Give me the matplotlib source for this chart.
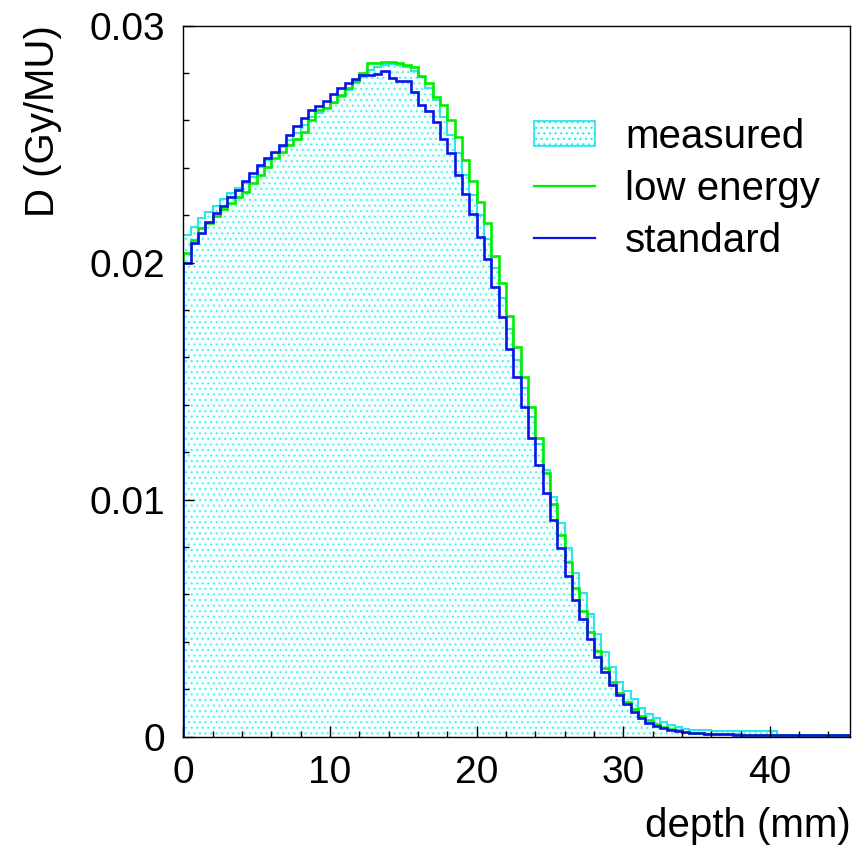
import numpy as np
import matplotlib
matplotlib.use("Agg")
import matplotlib.pyplot as plt
from matplotlib.patches import Patch
from matplotlib.lines import Line2D
from matplotlib.ticker import MultipleLocator, FuncFormatter

plt.rcParams['font.family'] = ['Liberation Sans', 'DejaVu Sans']
plt.rcParams['hatch.linewidth'] = 0.8

# depth-dose histograms, 0.5 mm bins from 0 to 45.5 mm
bin_edges = np.arange(0, 45.5001, 0.5)

measured = [
    0.02116, 0.02151, 0.02186, 0.02212, 0.02240, 0.02267, 0.02292, 0.02313, 0.02334, 0.02362,
    0.02402, 0.02432, 0.02461, 0.02489, 0.02517, 0.02545, 0.02580, 0.02615, 0.02632, 0.02651,
    0.02672, 0.02700, 0.02728, 0.02756, 0.02784, 0.02812, 0.02826, 0.02833, 0.02838, 0.02833,
    0.02826, 0.02809, 0.02784, 0.02735, 0.02686, 0.02615, 0.02538, 0.02461, 0.02370, 0.02285,
    0.02200, 0.02100, 0.01975, 0.01850, 0.01720, 0.01590, 0.01470, 0.01350, 0.01235, 0.01124,
    0.01012, 0.00902, 0.00794, 0.00691, 0.00604, 0.00515, 0.00432, 0.00358, 0.00292, 0.00231,
    0.00193, 0.00157, 0.00122, 0.00096, 0.00077, 0.00060, 0.00048, 0.00039, 0.00033, 0.00029,
    0.00027, 0.00026, 0.00025, 0.00024, 0.00024, 0.00023, 0.00023, 0.00023, 0.00022, 0.00022,
    0.00022, 0.00002, 0.00002, 0.00002, 0.00002, 0.00002, 0.00002, 0.00002, 0.00002, 0.00002,
    0.00002,
]

low_energy = [
    0.02041, 0.02095, 0.02144, 0.02168, 0.02198, 0.02224, 0.02250, 0.02278, 0.02299, 0.02334,
    0.02369, 0.02404, 0.02440, 0.02468, 0.02496, 0.02520, 0.02552, 0.02601, 0.02643, 0.02651,
    0.02678, 0.02707, 0.02735, 0.02766, 0.02801, 0.02840, 0.02840, 0.02847, 0.02847, 0.02840,
    0.02833, 0.02824, 0.02788, 0.02756, 0.02700, 0.02665, 0.02601, 0.02531, 0.02432, 0.02345,
    0.02257, 0.02168, 0.02029, 0.01912, 0.01776, 0.01645, 0.01515, 0.01389, 0.01258, 0.01110,
    0.00981, 0.00850, 0.00738, 0.00625, 0.00531, 0.00442, 0.00362, 0.00288, 0.00231, 0.00182,
    0.00146, 0.00115, 0.00088, 0.00068, 0.00052, 0.00041, 0.00032, 0.00026, 0.00021, 0.00017,
    0.00014, 0.00012, 0.00011, 0.00010, 0.00009, 0.00009, 0.00008, 0.00008, 0.00007, 0.00007,
    0.00007, 0.00006, 0.00006, 0.00006, 0.00006, 0.00005, 0.00005, 0.00005, 0.00005, 0.00005,
    0.00005,
]

standard = [
    0.01999, 0.02081, 0.02123, 0.02170, 0.02207, 0.02238, 0.02278, 0.02306, 0.02344, 0.02379,
    0.02411, 0.02440, 0.02468, 0.02496, 0.02538, 0.02576, 0.02608, 0.02643, 0.02660, 0.02681,
    0.02710, 0.02735, 0.02756, 0.02773, 0.02791, 0.02791, 0.02795, 0.02808, 0.02777, 0.02767,
    0.02767, 0.02718, 0.02665, 0.02641, 0.02594, 0.02520, 0.02463, 0.02369, 0.02289, 0.02203,
    0.02109, 0.02015, 0.01895, 0.01771, 0.01636, 0.01515, 0.01389, 0.01258, 0.01146, 0.01029,
    0.00914, 0.00794, 0.00678, 0.00576, 0.00494, 0.00411, 0.00337, 0.00274, 0.00217, 0.00177,
    0.00137, 0.00105, 0.00079, 0.00059, 0.00046, 0.00037, 0.00028, 0.00023, 0.00018, 0.00015,
    0.00013, 0.00010, 0.00010, 0.00009, 0.00009, 0.00008, 0.00008, 0.00007, 0.00007, 0.00007,
    0.00006, 0.00005, 0.00005, 0.00005, 0.00005, 0.00005, 0.00005, 0.00005, 0.00005, 0.00005,
    0.00005,
]

labels = ['measured', 'low energy', 'standard']
fill_col = '#f6fefe'
dot_col = '#55eef4'
cyan = '#2ee6ea'
green = '#00ee00'
blue = '#0a14e6'

fig = plt.figure(figsize=(8.55, 8.51), dpi=100)
ax = fig.add_axes([0.2146, 0.1345, 0.7801, 0.8355])

# measured: dotted cyan fill plus outline
ax.stairs(measured, bin_edges, baseline=0, fill=True, facecolor=fill_col,
          edgecolor=dot_col, hatch='...', linewidth=0)
ax.stairs(measured, bin_edges, baseline=0, color=cyan, linewidth=1.5)
ax.stairs(low_energy, bin_edges, baseline=0, color=green, linewidth=1.9)
ax.stairs(standard, bin_edges, baseline=0, color=blue, linewidth=1.9)

ax.set_xlim(0, 45.5)
ax.set_ylim(0, 0.03)

ax.xaxis.set_major_locator(MultipleLocator(10))
ax.xaxis.set_minor_locator(MultipleLocator(2))
ax.yaxis.set_major_locator(MultipleLocator(0.01))
ax.yaxis.set_minor_locator(MultipleLocator(0.002))
ax.yaxis.set_major_formatter(FuncFormatter(lambda v, p: '%g' % round(v, 4)))
ax.tick_params(which='both', direction='in', top=False, right=False, labelsize=28)
ax.tick_params(which='major', length=8, width=1, pad=13)
ax.tick_params(which='minor', length=4, width=1)
for side in ax.spines.values():
    side.set_linewidth(1.0)
ax.set_axisbelow(False)

ax.set_xlabel('depth (mm)', fontsize=29, loc='right', labelpad=12)
ax.set_ylabel('D (Gy/MU)', fontsize=29, loc='top', labelpad=20)

handles = [
    Patch(facecolor=fill_col, edgecolor=cyan, hatch='...', linewidth=1.3),
    Line2D([], [], color=green, linewidth=1.6),
    Line2D([], [], color=blue, linewidth=1.6),
]
ax.legend(handles, labels, loc='upper left', bbox_to_anchor=(0.502, 0.893),
          frameon=False, fontsize=29, handlelength=1.5, handleheight=0.6,
          handletextpad=0.75, labelspacing=0.35, borderaxespad=0)

fig.savefig('out.png', dpi=100)
